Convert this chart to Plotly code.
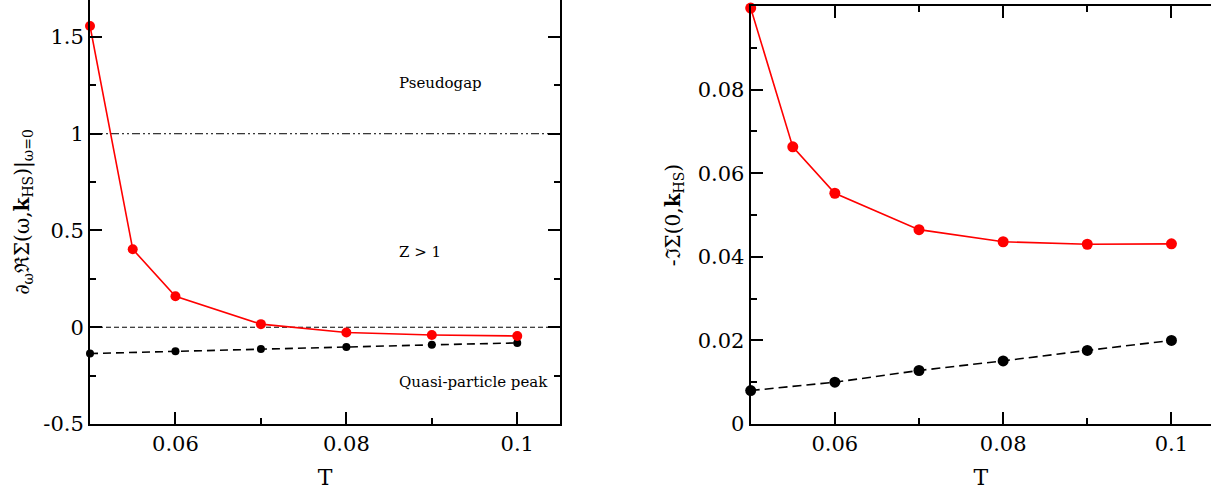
import plotly.graph_objects as go

# ---- data ----
T_red_left = [0.05, 0.055, 0.06, 0.07, 0.08, 0.09, 0.1]
dRe_red = [1.557, 0.403, 0.160, 0.016, -0.027, -0.040, -0.045]
T_black_left = [0.05, 0.06, 0.07, 0.08, 0.09, 0.1]
dRe_black = [-0.136, -0.124, -0.112, -0.102, -0.091, -0.081]

T_red_right = [0.05, 0.055, 0.06, 0.07, 0.08, 0.09, 0.1]
Im_red = [0.0995, 0.0663, 0.0552, 0.0465, 0.0436, 0.0430, 0.0431]
T_black_right = [0.05, 0.06, 0.07, 0.08, 0.09, 0.1]
Im_black = [0.0080, 0.0100, 0.0128, 0.0151, 0.0176, 0.0200]

ref_lines = [1.0, 0.0]
annot_text = ["Pseudogap", "Z > 1", "Quasi-particle peak"]
annot_y = [1.262, 0.389, -0.281]
annot_x = 0.0859

x_ticks = [0.06, 0.08, 0.1]
x_ticktext = ["0.06", "0.08", "0.1"]
x_minor = [0.05, 0.07, 0.09]
yl_ticks = [-0.5, 0, 0.5, 1, 1.5]
yl_ticktext = ["-0.5", "0", "0.5", "1", "1.5"]
yl_minor = [-0.25, 0.25, 0.75, 1.25]
yr_ticks = [0, 0.02, 0.04, 0.06, 0.08, 0.1]
yr_ticktext = ["0", "0.02", "0.04", "0.06", "0.08", "0.1"]
yr_minor = [0.01, 0.03, 0.05, 0.07, 0.09]

FONT = "DejaVu Serif"
RED = "#ff0000"
TICK_SIZE = 21
TITLE_SIZE = 20

fig = go.Figure()

fig.add_trace(go.Scatter(x=T_black_left, y=dRe_black, mode="lines+markers",
                         line=dict(color="black", width=1.6, dash="8px,5px"),
                         marker=dict(color="black", size=8),
                         xaxis="x", yaxis="y", showlegend=False, cliponaxis=False))
fig.add_trace(go.Scatter(x=T_red_left, y=dRe_red, mode="lines+markers",
                         line=dict(color=RED, width=1.6),
                         marker=dict(color=RED, size=10),
                         xaxis="x", yaxis="y", showlegend=False, cliponaxis=False))
fig.add_trace(go.Scatter(x=T_black_right, y=Im_black, mode="lines+markers",
                         line=dict(color="black", width=1.6, dash="9px,5px"),
                         marker=dict(color="black", size=11),
                         xaxis="x2", yaxis="y2", showlegend=False, cliponaxis=False))
fig.add_trace(go.Scatter(x=T_red_right, y=Im_red, mode="lines+markers",
                         line=dict(color=RED, width=1.6),
                         marker=dict(color=RED, size=11),
                         xaxis="x2", yaxis="y2", showlegend=False, cliponaxis=False))

dashes = ["8px,3px,2px,3px,2px,3px", "5px,3px"]
for yv, dsh in zip(ref_lines, dashes):
    fig.add_shape(type="line", xref="x domain", yref="y", x0=0, x1=1, y0=yv, y1=yv,
                  line=dict(color="black", width=1, dash=dsh), layer="below")

for txt, yv in zip(annot_text, annot_y):
    fig.add_annotation(x=annot_x, y=yv, xref="x", yref="y", text=txt, showarrow=False,
                       xanchor="left", yanchor="middle",
                       font=dict(family=FONT, size=15, color="black"))

xl_dom = [0.0, 0.41927]
xr_dom = [0.58938, 1.0]
xl_range = [0.05, 0.105]
xr_range = [0.05, 0.1047]

tickfont = dict(family=FONT, size=TICK_SIZE, color="black")


def tickstyle(vals, text, minor_vals, labels=True):
    d = dict(tickmode="array", tickvals=vals,
             ticks="inside", ticklen=12, tickwidth=1.5, tickcolor="black",
             minor=dict(tickmode="array", tickvals=minor_vals, ticks="inside",
                        ticklen=6, tickwidth=1.5, tickcolor="black", showgrid=False),
             showgrid=False, zeroline=False)
    if labels:
        d.update(ticktext=text, tickfont=tickfont)
    else:
        d.update(showticklabels=False)
    return d


fig.update_layout(
    width=1211, height=493,
    margin=dict(l=90, r=0, t=0, b=69),
    paper_bgcolor="white", plot_bgcolor="white",
    xaxis=dict(domain=xl_dom, range=xl_range, anchor="y", showline=True, linecolor="black",
               linewidth=2, mirror=False,
               title=dict(text="T", font=dict(family=FONT, size=22, color="black"), standoff=14),
               **tickstyle(x_ticks, x_ticktext, x_minor)),
    xaxis3=dict(domain=xl_dom, range=xl_range, anchor="y", overlaying="x", side="top",
                showline=False, **tickstyle(x_ticks, x_ticktext, x_minor, labels=False)),
    yaxis=dict(domain=[0, 1], range=[-0.5, 1.691], anchor="x", showline=True, linecolor="black",
               linewidth=2, mirror="ticks",
               title=dict(text="∂<sub>ω</sub>ℜΣ(ω,<b>k</b><sub>HS</sub>)|<sub>ω=0</sub>",
                          font=dict(family=FONT, size=TITLE_SIZE, color="black"), standoff=8),
               **tickstyle(yl_ticks, yl_ticktext, yl_minor)),
    xaxis2=dict(domain=xr_dom, range=xr_range, anchor="y2", showline=True, linecolor="black",
                linewidth=2, mirror="ticks",
                title=dict(text="T", font=dict(family=FONT, size=22, color="black"), standoff=14),
                **tickstyle(x_ticks, x_ticktext, x_minor)),
    yaxis2=dict(domain=[0, 0.98585], range=[0, 0.1], anchor="x2", showline=True, linecolor="black",
                linewidth=2, mirror=False,
                title=dict(text="-ℑΣ(0,<b>k</b><sub>HS</sub>)",
                           font=dict(family=FONT, size=TITLE_SIZE, color="black"), standoff=12),
                **tickstyle(yr_ticks, yr_ticktext, yr_minor)),
    yaxis3=dict(domain=[0, 0.98585], range=[0, 0.1], anchor="x2", overlaying="y2", side="right",
                showline=False, **tickstyle(yr_ticks, yr_ticktext, yr_minor, labels=False)),
)

fig.write_html("out.html")
